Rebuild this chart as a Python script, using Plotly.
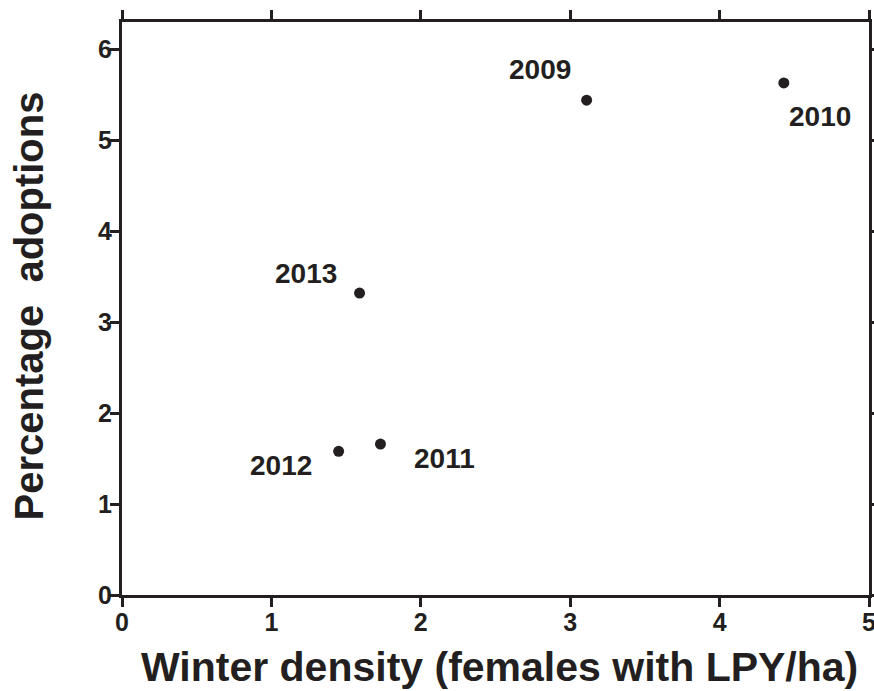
import plotly.graph_objects as go

years = ["2009", "2010", "2011", "2012", "2013"]
density = [3.11, 4.43, 1.73, 1.45, 1.59]
adoptions = [5.44, 5.63, 1.66, 1.58, 3.32]
x_ticks = [0, 1, 2, 3, 4, 5]
y_ticks = [0, 1, 2, 3, 4, 5, 6]
x_title = "Winter density (females with LPY/ha)"
y_title = "Percentage\u00a0 adoptions"

INK = "#231f20"
FONT = "Liberation Sans, Arial, sans-serif"

# label placement relative to each point (pixels)
label_pos = {
    "2009": dict(xanchor="right", yanchor="middle", xshift=-14, yshift=31),
    "2010": dict(xanchor="left", yanchor="middle", xshift=3, yshift=-34),
    "2011": dict(xanchor="left", yanchor="middle", xshift=32, yshift=-14),
    "2012": dict(xanchor="right", yanchor="middle", xshift=-25, yshift=-14),
    "2013": dict(xanchor="right", yanchor="middle", xshift=-21, yshift=20),
}

fig = go.Figure()
fig.add_trace(go.Scatter(
    x=density, y=adoptions, mode="markers",
    marker=dict(size=11, color=INK),
    showlegend=False, hoverinfo="skip",
))

for yr, xv, yv in zip(years, density, adoptions):
    fig.add_annotation(
        x=xv, y=yv, text="<b>%s</b>" % yr, showarrow=False,
        font=dict(family=FONT, size=28, color=INK),
        **label_pos[yr],
    )

# axis titles
fig.add_annotation(
    xref="paper", yref="paper", x=0.5, y=0, xanchor="center", yanchor="middle",
    xshift=4, yshift=-72, showarrow=False,
    text="<b>%s</b>" % x_title, font=dict(family=FONT, size=41, color=INK),
)
fig.add_annotation(
    xref="paper", yref="paper", x=0, y=0.5, xanchor="center", yanchor="middle",
    xshift=-94, yshift=2, showarrow=False, textangle=-90,
    text="<b>%s</b>" % y_title, font=dict(family=FONT, size=40, color=INK),
)

axis_common = dict(
    showline=True, linewidth=3, linecolor=INK,
    mirror="allticks", ticks="outside", ticklen=9, tickwidth=3, tickcolor=INK,
    showgrid=False, zeroline=False, automargin=False, ticklabeloverflow="allow",
    tickfont=dict(family=FONT, size=25, color=INK),
)

fig.update_xaxes(
    range=[0, 5], tickvals=x_ticks, ticktext=["<b>%d</b>" % v for v in x_ticks],
    ticklabelstandoff=-6,
    **axis_common,
)
fig.update_yaxes(
    range=[0, 6.3], tickvals=y_ticks, ticktext=["<b>%d</b>" % v for v in y_ticks],
    ticklabelstandoff=-7,
    **axis_common,
)

fig.update_layout(
    width=874, height=691,
    margin=dict(l=122, r=5, t=22, b=96),
    plot_bgcolor="white", paper_bgcolor="white",
)

fig.write_html(
    "out.html",
    config={"displayModeBar": False},
    post_script="document.body.style.margin='0';document.body.style.overflow='hidden';",
)
